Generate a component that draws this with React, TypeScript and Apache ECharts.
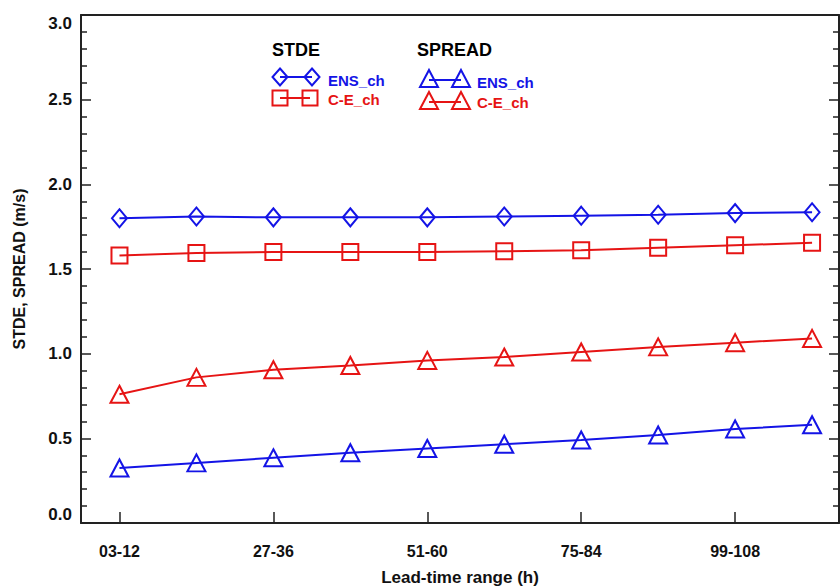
import React, { useEffect, useRef } from "react";
import * as echarts from "echarts";

const categories = ["03-12", "15-24", "27-36", "39-48", "51-60", "63-72", "75-84", "87-96", "99-108", "111-120"];
const xTickIdx = [0, 2, 4, 6, 8];
const stdeEns = [1.8, 1.81, 1.805, 1.805, 1.805, 1.81, 1.815, 1.82, 1.83, 1.835];
const stdeCE = [1.58, 1.595, 1.6, 1.6, 1.6, 1.605, 1.61, 1.625, 1.64, 1.655];
const spreadCE = [0.76, 0.86, 0.905, 0.93, 0.96, 0.98, 1.01, 1.04, 1.065, 1.09];
const spreadEns = [0.325, 0.355, 0.385, 0.415, 0.44, 0.465, 0.49, 0.52, 0.555, 0.58];

const BLUE = "#1414e6";
const RED = "#e61414";
const AXIS = "#222";
const FONT = "'Liberation Sans', Arial, Helvetica, sans-serif";

function diamond(cx: number, cy: number, color: string) {
  return {
    type: "polygon",
    shape: { points: [[cx, cy - 8.5], [cx + 7.5, cy], [cx, cy + 8.5], [cx - 7.5, cy]] },
    style: { fill: "none", stroke: color, lineWidth: 2 },
  };
}
function square(cx: number, cy: number, color: string) {
  return {
    type: "rect",
    shape: { x: cx - 7.5, y: cy - 7.5, width: 15, height: 15 },
    style: { fill: "none", stroke: color, lineWidth: 2 },
  };
}
function triangle(cx: number, cy: number, color: string) {
  return {
    type: "polygon",
    shape: { points: [[cx, cy - 9], [cx + 9, cy + 8], [cx - 9, cy + 8]] },
    style: { fill: "none", stroke: color, lineWidth: 2 },
  };
}
function seg(x1: number, x2: number, y: number, color: string) {
  return { type: "line", shape: { x1, y1: y, x2, y2: y }, style: { stroke: color, lineWidth: 2 } };
}
function txt(x: number, y: number, text: string, color: string, size: number) {
  return {
    type: "text",
    x,
    y,
    style: { text, fill: color, font: `bold ${size}px ${FONT}`, verticalAlign: "middle", align: "left" },
  };
}

export default function App() {
  const ref = useRef<HTMLDivElement>(null);
  useEffect(() => {
    if (!ref.current) return;
    const chart = echarts.init(ref.current, null, { renderer: "svg" });
    const axisLine = { show: true, onZero: false, lineStyle: { color: AXIS, width: 2 } };
    const yCommon = {
      type: "value",
      min: 0,
      max: 3,
      interval: 0.5,
      axisLine,
      axisTick: { show: true, inside: true, length: 10, lineStyle: { color: AXIS, width: 1.5 } },
      minorTick: { show: true, splitNumber: 5, length: 6, lineStyle: { color: AXIS, width: 1.5 } },
      splitLine: { show: false },
      minorSplitLine: { show: false },
    };
    const mk = (name: string, vals: number[], color: string, symbol: string, size: number[]) => ({
      name,
      type: "line",
      data: vals.map((v, i) => [i, v]),
      symbol,
      symbolSize: size,
      showAllSymbol: true,
      lineStyle: { color, width: 2 },
      itemStyle: { color: "none", borderColor: color, borderWidth: 2 },
      emphasis: { disabled: true },
      z: 3,
    });
    const graphics = [
      txt(272, 50, "STDE", "#000", 18),
      seg(280, 312, 77, BLUE),
      diamond(280, 77, BLUE),
      diamond(312, 77, BLUE),
      txt(328, 80, "ENS_ch", BLUE, 15),
      seg(280, 310, 98, RED),
      square(280, 98, RED),
      square(310, 98, RED),
      txt(328, 99, "C-E_ch", RED, 15),
      txt(417, 50, "SPREAD", "#000", 18),
      seg(429, 461, 80, BLUE),
      triangle(429, 79, BLUE),
      triangle(461, 79, BLUE),
      txt(477, 82, "ENS_ch", BLUE, 15),
      seg(429, 461, 102, RED),
      triangle(429, 101, RED),
      triangle(461, 101, RED),
      txt(477, 102, "C-E_ch", RED, 15),
    ];
    chart.setOption({
      animation: false,
      backgroundColor: "#fff",
      grid: { left: 81, right: 1, top: 15, bottom: 63, containLabel: false, outerBoundsMode: "none" },
      xAxis: [
        {
          type: "value",
          min: -0.5,
          max: 9.35,
          position: "bottom",
          axisLine,
          axisTick: { show: true, inside: true, length: 11, customValues: xTickIdx, lineStyle: { color: AXIS, width: 1.5 } },
          axisLabel: {
            customValues: xTickIdx,
            formatter: (v: number) => categories[Math.round(v)] ?? "",
            fontSize: 16,
            fontWeight: "bold",
            color: "#111",
            margin: 20,
            fontFamily: FONT,
          },
          splitLine: { show: false },
          name: "Lead-time range (h)",
          nameLocation: "middle",
          nameGap: 46,
          nameTextStyle: { fontSize: 17, fontWeight: "bold", color: "#111", fontFamily: FONT },
        },
        {
          type: "value",
          min: -0.5,
          max: 9.35,
          position: "top",
          axisLine,
          axisTick: { show: false },
          axisLabel: { show: false },
          splitLine: { show: false },
        },
      ],
      yAxis: [
        {
          ...yCommon,
          position: "left",
          axisLabel: {
            formatter: (v: number) => v.toFixed(1),
            fontSize: 17,
            fontWeight: "bold",
            color: "#111",
            margin: 9,
            fontFamily: FONT,
            verticalAlignMaxLabel: "top",
            verticalAlignMinLabel: "bottom",
          },
          name: "STDE, SPREAD (m/s)",
          nameLocation: "middle",
          nameGap: 54,
          nameTextStyle: { fontSize: 16, fontWeight: "bold", color: "#111", fontFamily: FONT },
        },
        {
          ...yCommon,
          position: "right",
          axisLabel: { show: false },
        },
      ],
      series: [
        mk("STDE ENS_ch", stdeEns, BLUE, "diamond", [15, 18]),
        mk("STDE C-E_ch", stdeCE, RED, "rect", [16, 16]),
        mk("SPREAD ENS_ch", spreadEns, BLUE, "triangle", [18, 17]),
        mk("SPREAD C-E_ch", spreadCE, RED, "triangle", [18, 17]),
      ],
      graphic: graphics,
    });
    return () => chart.dispose();
  }, []);
  return <div ref={ref} style={{ position: "absolute", left: 0, top: 0, width: 840, height: 586 }} />;
}
